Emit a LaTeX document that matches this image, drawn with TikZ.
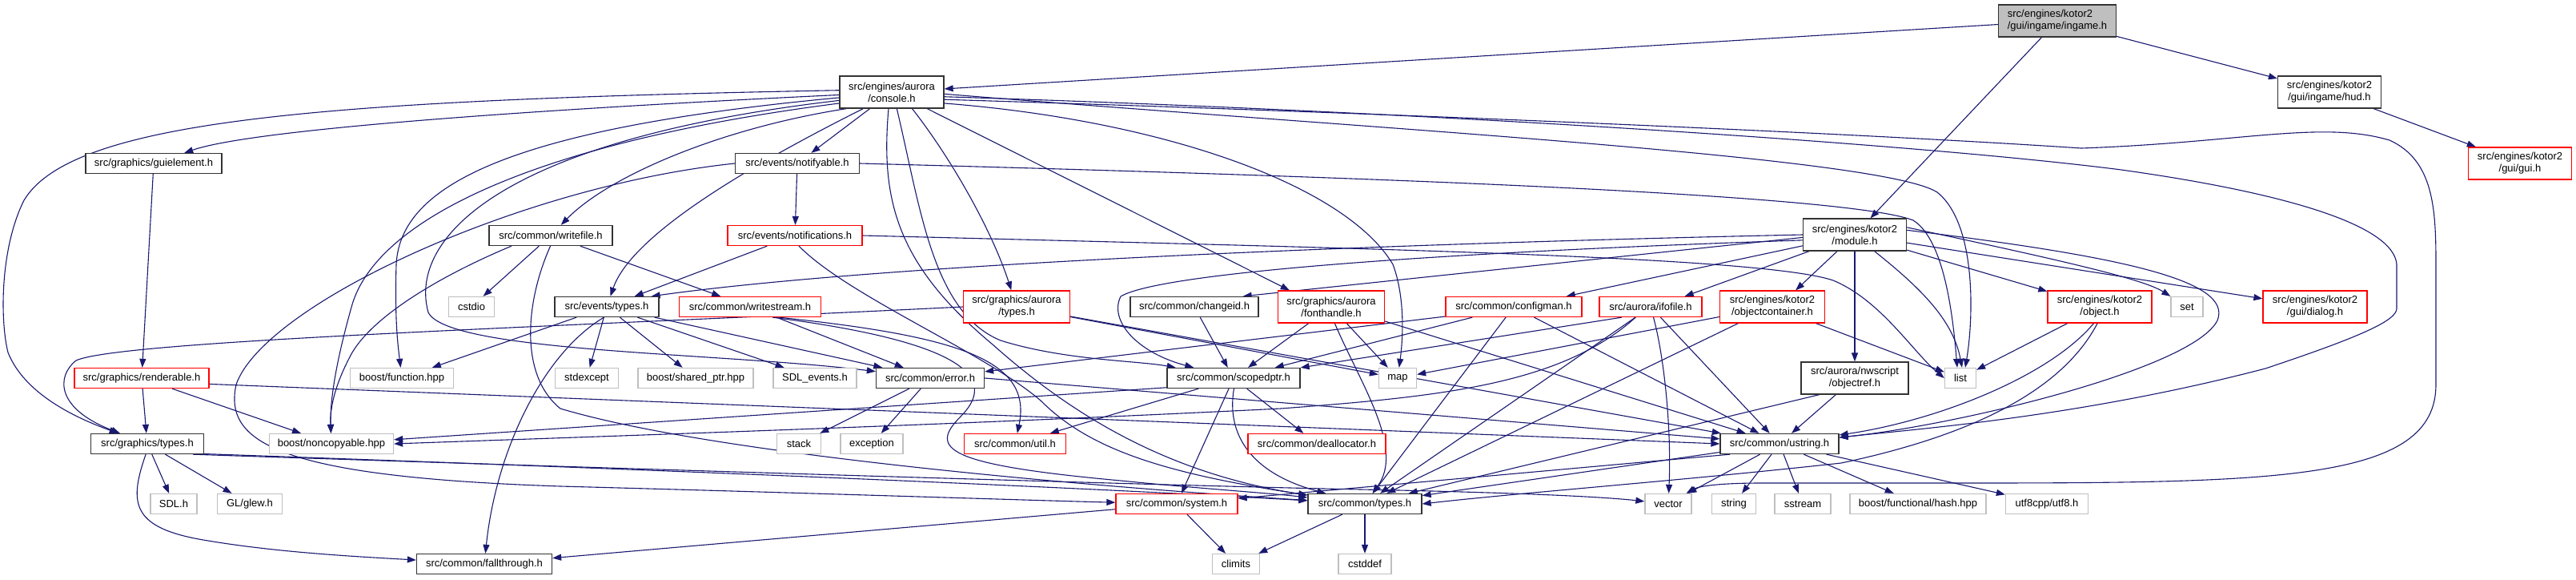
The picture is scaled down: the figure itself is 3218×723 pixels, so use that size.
\documentclass[tikz,border=0pt]{standalone}
\usepackage{fontspec}
\setmainfont{Liberation Sans}
\usetikzlibrary{arrows.meta}
\definecolor{edgecol}{HTML}{191970}
\definecolor{grayb}{HTML}{BFBFBF}
\definecolor{redb}{HTML}{FF0000}
\definecolor{blackb}{HTML}{333333}
\pgfdeclarelayer{bg}
\pgfdeclarelayer{paper}
\pgfsetlayers{paper,bg,main}
\begin{document}
\begin{tikzpicture}[x=1pt,y=-1pt,
  box/.style={draw=blackb,line width=1.3pt,fill=white,minimum height=25pt,inner sep=0pt,font=\fontsize{13}{15}\selectfont,align=center},
  redbox/.style={box,draw=redb},
  sysbox/.style={box,draw=grayb},
  tall/.style={minimum height=40pt},
  e/.style={draw=edgecol,line width=1.1pt,-{Triangle[length=11pt,width=8pt]}}]
\useasboundingbox (0,0) rectangle (3218,723);
\begin{pgfonlayer}{paper}
\fill[white] (0,0) rectangle (3218,723);
\end{pgfonlayer}

% row 0-2
\node[box,tall,fill=grayb,minimum width=147pt,align=left] (ingame) at (2570,26) {src/engines/kotor2\\/gui/ingame/ingame.h};
\node[box,tall,minimum width=130pt] (console) at (1114,115) {src/engines/aurora\\/console.h};
\node[box,tall,minimum width=129pt] (hud) at (2910,115) {src/engines/kotor2\\/gui/ingame/hud.h};
\node[redbox,tall,minimum width=129pt] (gui) at (3148,204) {src/engines/kotor2\\/gui/gui.h};
\node[box,minimum width=170pt] (guielement) at (192,204) {src/graphics/guielement.h};
\node[box,minimum width=155pt] (notifyable) at (996,204) {src/events/notifyable.h};
% row 3
\node[box,minimum width=154pt] (writefile) at (688,294) {src/common/writefile.h};
\node[redbox,minimum width=168pt] (notifications) at (993,294) {src/events/notifications.h};
\node[box,tall,minimum width=129pt] (module) at (2317,293) {src/engines/kotor2\\/module.h};
% row 4
\node[sysbox,minimum width=57pt] (cstdio) at (589,383) {cstdio};
\node[box,minimum width=130pt] (etypes) at (758,383) {src/events/types.h};
\node[redbox,minimum width=177pt] (writestream) at (937,383) {src/common/writestream.h};
\node[redbox,tall,minimum width=133pt] (gatypes) at (1270,383) {src/graphics/aurora\\/types.h};
\node[box,minimum width=160pt] (changeid) at (1492,383) {src/common/changeid.h};
\node[redbox,tall,minimum width=133pt] (fonthandle) at (1663,383) {src/graphics/aurora\\/fonthandle.h};
\node[redbox,minimum width=170pt] (configman) at (1891,383) {src/common/configman.h};
\node[redbox,minimum width=128pt] (ifofile) at (2062,383) {src/aurora/ifofile.h};
\node[redbox,tall,minimum width=131pt] (objcont) at (2214,383) {src/engines/kotor2\\/objectcontainer.h};
\node[redbox,tall,minimum width=130pt] (object) at (2623,383) {src/engines/kotor2\\/object.h};
\node[sysbox,minimum width=40pt] (setn) at (2732,383) {set};
\node[redbox,tall,minimum width=130pt] (dialog) at (2892,383) {src/engines/kotor2\\/gui/dialog.h};
% row 5
\node[redbox,minimum width=168pt] (renderable) at (177,472) {src/graphics/renderable.h};
\node[sysbox,minimum width=129pt] (bfunction) at (502,472) {boost/function.hpp};
\node[sysbox,minimum width=79pt] (stdexcept) at (733,472) {stdexcept};
\node[sysbox,minimum width=144pt] (sharedptr) at (869,472) {boost/shared\_ptr.hpp};
\node[sysbox,minimum width=104pt] (sdlevents) at (1018,472) {SDL\_events.h};
\node[box,minimum width=135pt] (error) at (1162,472) {src/common/error.h};
\node[box,minimum width=166pt] (scopedptr) at (1541,472) {src/common/scopedptr.h};
\node[sysbox,minimum width=47pt] (nmap) at (1746,472) {map};
\node[box,tall,minimum width=134pt] (objectref) at (2317,472) {src/aurora/nwscript\\/objectref.h};
\node[sysbox,minimum width=39pt] (nlist) at (2449,472) {list};
% row 6
\node[box,minimum width=141pt] (gtypes) at (184,554) {src/graphics/types.h};
\node[sysbox,minimum width=155pt] (noncopyable) at (414,554) {boost/noncopyable.hpp};
\node[sysbox,minimum width=55pt] (stack) at (998,554) {stack};
\node[sysbox,minimum width=78pt] (exception) at (1089,554) {exception};
\node[redbox,minimum width=127pt] (util) at (1268,554) {src/common/util.h};
\node[redbox,minimum width=172pt] (deallocator) at (1645,554) {src/common/deallocator.h};
\node[box,minimum width=148pt] (ustring) at (2223,554) {src/common/ustring.h};
% row 7
\node[sysbox,minimum width=58pt] (sdlh) at (217,629) {SDL.h};
\node[sysbox,minimum width=81pt] (glew) at (312,629) {GL/glew.h};
\node[redbox,minimum width=152pt] (system) at (1470,629) {src/common/system.h};
\node[box,minimum width=142pt] (ctypes) at (1705,629) {src/common/types.h};
\node[sysbox,minimum width=58pt] (nvector) at (2084,629) {vector};
\node[sysbox,minimum width=55pt] (nstring) at (2166,629) {string};
\node[sysbox,minimum width=70pt] (sstream) at (2252,629) {sstream};
\node[sysbox,minimum width=170pt] (hash) at (2396,629) {boost/functional/hash.hpp};
\node[sysbox,minimum width=103pt] (utf8) at (2557,629) {utf8cpp/utf8.h};
% row 8
\node[box,minimum width=169pt] (fallthrough) at (605,704) {src/common/fallthrough.h};
\node[sysbox,minimum width=59pt] (climits) at (1544,704) {climits};
\node[sysbox,minimum width=66pt] (cstddef) at (1705,704) {cstddef};

\begin{pgfonlayer}{bg}
% ingame / hud
\draw[e] (ingame) -- (console);
\draw[e] (ingame) -- (module);
\draw[e] (ingame) -- (hud);
\draw[e] (hud) -- (gui);
% console
\draw[e] (console.183) .. controls (700,135) and (320,160) .. (guielement);
\draw[e] (console.178) .. controls (400,125) and (90,150) .. (30,250) .. controls (0,310) and (0,400) .. (10,440) .. controls (30,490) and (90,520) .. (gtypes);
\draw[e] (console) -- (notifyable);
\draw[e] (console.200) .. controls (900,160) and (760,220) .. (writefile);
\draw[e] (console.210) .. controls (950,200) and (790,290) .. (etypes);
\draw[e] (console.186) .. controls (640,160) and (500,230) .. (495,330) .. controls (493,400) and (497,430) .. (bfunction);
\draw[e] (console.192) .. controls (650,180) and (470,280) .. (440,380) .. controls (420,450) and (412,500) .. (noncopyable);
\draw[e] (console.189) .. controls (620,175) and (510,300) .. (535,390) .. controls (560,440) and (900,440) .. (error);
\draw[e] (console.321) .. controls (1190,200) and (1240,290) .. (gatypes);
\draw[e] (console.335) -- ([xshift=15pt]fonthandle.north west);
\draw[e] (console.287) .. controls (1150,260) and (1165,390) .. (1250,425) .. controls (1330,450) and (1420,450) .. (scopedptr);
\draw[e] (console.259) .. controls (1100,250) and (1120,330) .. (1240,430) .. controls (1330,510) and (1450,590) .. (ctypes);
\draw[e] (console.348) .. controls (1450,150) and (1680,230) .. (1740,330) .. controls (1755,370) and (1753,420) .. (nmap);
\draw[e] (console.358) .. controls (1700,160) and (2350,195) .. (2420,240) .. controls (2470,280) and (2465,400) .. ([xshift=6pt]nlist.north);
\draw[e] (console.355) .. controls (1800,140) and (2400,180) .. (2650,212) .. controls (2850,240) and (2990,280) .. (2994,330) -- (2994,385) .. controls (2994,400) and (2950,420) .. (2830,460) .. controls (2600,520) and (2400,535) .. (ustring);
\draw[e] (console.352) .. controls (1700,140) and (2300,165) .. (2600,185) .. controls (2800,178) and (2900,150) .. (2985,175) .. controls (3040,200) and (3043,260) .. (3043,330) -- (3043,480) .. controls (3043,600) and (2850,603) .. (2450,603) -- (2200,603) .. controls (2140,603) and (2120,608) .. (nvector);
% notifyable / notifications
\draw[e] (notifyable) -- (notifications);
\draw[e] (notifyable.east) .. controls (1600,218) and (2300,240) .. (2390,275) .. controls (2430,300) and (2440,400) .. ([xshift=-4pt]nlist.north);
\draw[e] (notifyable.west) .. controls (650,232) and (330,380) .. (295,480) .. controls (280,550) and (340,595) .. (700,607) .. controls (1000,615) and (1300,625) .. (system);
\draw[e] (notifications) -- (etypes);
\draw[e] (notifications.east) .. controls (1700,310) and (2200,320) .. (2290,350) .. controls (2350,375) and (2390,440) .. (nlist.west);
\draw[e] ([xshift=5pt]notifications.south) .. controls (1060,370) and (1230,440) .. (1300,500) .. controls (1360,560) and (1450,590) .. (ctypes);
% writefile
\draw[e] (writefile) -- (cstdio);
\draw[e] (writefile) -- (writestream);
\draw[e] (writefile.195) .. controls (560,340) and (470,390) .. (440,440) .. controls (418,480) and (412,510) .. (noncopyable);
\draw[e] (writefile.268) .. controls (655,380) and (650,470) .. (700,510) .. controls (900,570) and (1400,610) .. (ctypes);
% events/types
\draw[e] (etypes) -- (bfunction);
\draw[e] (etypes) -- (stdexcept);
\draw[e] (etypes) -- (sharedptr);
\draw[e] (etypes) -- (sdlevents);
\draw[e] (etypes) -- (error);
\draw[e] (etypes.255) .. controls (680,440) and (620,560) .. (fallthrough);
% writestream
\draw[e] (writestream) -- (error);
\draw[e] (writestream.340) .. controls (1200,420) and (1290,450) .. (util);
\draw[e] (writestream.335) .. controls (1230,430) and (1240,480) .. (1200,520) .. controls (1160,560) and (1180,580) .. (1400,600) .. controls (1500,610) and (1580,615) .. (ctypes);
% graphics/aurora/types
\draw[e] (gatypes.west) .. controls (700,408) and (150,425) .. (95,450) .. controls (70,470) and (70,510) .. (gtypes);
\draw[e] (gatypes) -- (nmap);
\draw[e] (gatypes) -- (ustring);
% fonthandle
\draw[e] (fonthandle) -- (scopedptr);
\draw[e] (fonthandle) -- (nmap);
\draw[e] (fonthandle.282) .. controls (1700,480) and (1755,560) .. (ctypes);
\draw[e] (fonthandle.345) -- (ustring);
% changeid
\draw[e] (changeid) -- (scopedptr);
% configman
\draw[e] (configman) -- (scopedptr);
\draw[e] (configman.188) -- (error);
\draw[e] (configman) -- (ctypes);
\draw[e] (configman) -- (ustring);
% ifofile
\draw[e] (ifofile.200) -- (scopedptr);
\draw[e] (ifofile) -- (ctypes);
\draw[e] (ifofile) .. controls (2080,450) and (2088,540) .. (nvector);
\draw[e] (ifofile) -- (ustring);
\draw[e] (ifofile.215) .. controls (1950,480) and (1800,495) .. (1600,510) .. controls (1200,530) and (800,543) .. (noncopyable.east);
% objectcontainer
\draw[e] (objcont) -- (nmap);
\draw[e] (objcont) -- (nlist);
\draw[e] (objcont) -- (ctypes);
% object
\draw[e] (object) -- (nlist);
\draw[e] (object.250) .. controls (2560,470) and (2420,525) .. (ustring);
\draw[e] (object.262) .. controls (2580,480) and (2480,540) .. (2300,578) .. controls (2100,600) and (1900,615) .. (ctypes.east);
% objectref
\draw[e] (objectref) -- (ustring);
\draw[e] (objectref.205) -- (ctypes);
% module
\draw[e] (module.west) .. controls (1700,305) and (1100,330) .. ([xshift=-10pt]etypes.north east);
\draw[e] (module.183) -- ([xshift=-20pt]changeid.north east);
\draw[e] (module.186) .. controls (1800,315) and (1450,340) .. (1400,370) .. controls (1385,400) and (1420,440) .. (scopedptr);
\draw[e] (module) -- ([xshift=-20pt]configman.north east);
\draw[e] (module) -- ([xshift=-22pt]ifofile.north east);
\draw[e] (module) -- ([xshift=-37pt]objcont.north east);
\draw[e] (module) -- (objectref);
\draw[e] (module.320) .. controls (2400,360) and (2440,400) .. ([xshift=2pt]nlist.north);
\draw[e] (module) -- (object);
\draw[e] (module.8) .. controls (2600,330) and (2680,350) .. (setn);
\draw[e] (module) -- (dialog);
\draw[e] (module.5) .. controls (2650,320) and (2790,350) .. (2770,400) .. controls (2740,460) and (2450,530) .. (ustring);
% scopedptr
\draw[e] (scopedptr.188) -- (noncopyable);
\draw[e] (scopedptr) -- (util);
\draw[e] (scopedptr) -- (deallocator);
\draw[e] (scopedptr) -- (system);
\draw[e] (scopedptr.272) .. controls (1532,540) and (1560,590) .. (ctypes);
% error
\draw[e] (error) -- (stack);
\draw[e] (error) -- (exception);
\draw[e] (error.east) -- (ustring);
% renderable / guielement
\draw[e] (guielement) -- (renderable);
\draw[e] (renderable) -- (gtypes);
\draw[e] (renderable) -- (noncopyable);
\draw[e] (renderable.355) -- (ustring.west);
% graphics/types
\draw[e] (gtypes) -- (sdlh);
\draw[e] (gtypes) -- (glew);
\draw[e] (gtypes.262) .. controls (160,630) and (165,660) .. (260,675) .. controls (350,690) and (450,695) .. (fallthrough);
\draw[e] (gtypes.350) .. controls (500,575) and (1200,600) .. (ctypes);
\draw[e] (gtypes.347) .. controls (500,576) and (1400,605) .. (1700,611) .. controls (1900,615) and (2000,620) .. (nvector);
% system / types
\draw[e] (system) -- (climits);
\draw[e] (system.185) -- (fallthrough);
\draw[e] (ctypes) -- (climits);
\draw[e] (ctypes) -- (cstddef);
% ustring
\draw[e] (ustring) -- (nvector);
\draw[e] (ustring) -- (nstring);
\draw[e] (ustring) -- (sstream);
\draw[e] (ustring) -- (hash);
\draw[e] (ustring) -- (utf8);
\draw[e] (ustring.188) -- (ctypes);
\draw[e] (ustring.192) -- (system);
\end{pgfonlayer}
\end{tikzpicture}
\end{document}
